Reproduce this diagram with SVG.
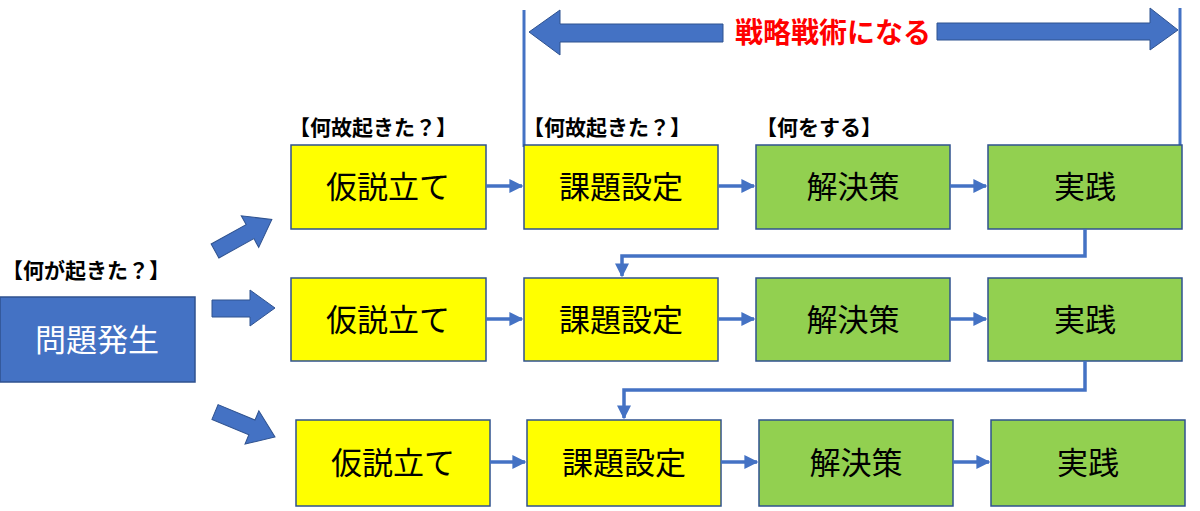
<svg xmlns="http://www.w3.org/2000/svg" width="1200" height="511" viewBox="0 0 1200 511">
<defs>
<style>
.y{fill:#FFFF00;stroke:#2F528F;stroke-width:1.5}
.g{fill:#92D050;stroke:#2F528F;stroke-width:1.5}
.b{fill:#4472C4;stroke:#2F528F;stroke-width:1.5}
.t{font-family:"Liberation Sans","Noto Sans CJK JP",sans-serif;font-size:31px;text-anchor:middle;dominant-baseline:central;fill:#000}
.w{fill:#fff}
.lb{font-family:"Liberation Sans","Noto Sans CJK JP",sans-serif;font-size:21px;font-weight:bold;fill:#000}
.c{fill:none;stroke:#4472C4;stroke-width:3.5}
.ba{fill:#4472C4;stroke:#2F528F;stroke-width:1}
</style>
<marker id="ah" viewBox="0 0 10 10" refX="9" refY="5" markerWidth="4" markerHeight="4" orient="auto" markerUnits="strokeWidth">
<path d="M0,0 L10,5 L0,10 Z" fill="#4472C4"/>
</marker>
</defs>
<rect width="1200" height="511" fill="#fff"/>

<g id="top-range">
<line x1="524" y1="10" x2="524" y2="147" stroke="#4472C4" stroke-width="3"/>
<line x1="1180" y1="8" x2="1180" y2="145" stroke="#4472C4" stroke-width="3"/>
<polygon class="ba" points="723,24 560,24 560,10 529,32 560,55 560,42 723,42"/>
<polygon class="ba" points="937,23 1150,23 1150,8 1178,30 1150,50 1150,40 937,40"/>
<text x="833" y="33" font-family="'Liberation Sans','Noto Sans CJK JP',sans-serif" font-size="28" font-weight="bold" fill="#FF0000" text-anchor="middle" dominant-baseline="central">戦略戦術になる</text>
</g>

<g id="labels">
<text class="lb" x="2" y="278">【何が起きた？】</text>
<text class="lb" x="289" y="135">【何故起きた？】</text>
<text class="lb" x="523" y="135">【何故起きた？】</text>
<text class="lb" x="756" y="135">【何をする】</text>
</g>

<g id="problem">
<rect class="b" x="0" y="297" width="195" height="85"/>
<text class="t w" x="97" y="340">問題発生</text>
</g>

<g id="block-arrows">
<polygon class="ba" transform="translate(215,251) rotate(-29)" points="0,-8 40,-8 40,-18 65,0 40,18 40,8 0,8"/>
<polygon class="ba" points="212,300 250,300 250,290 275,308 250,326 250,317 212,317"/>
<polygon class="ba" transform="translate(215,412) rotate(22.6)" points="0,-8 40,-8 40,-18 65,0 40,18 40,8 0,8"/>
</g>

<g id="r1n1"><rect class="y" x="291" y="145" width="195" height="84"/><text class="t" x="388" y="187">仮説立て</text></g>
<g id="r1n2"><rect class="y" x="524" y="145" width="194" height="84"/><text class="t" x="621" y="187">課題設定</text></g>
<g id="r1n3"><rect class="g" x="756" y="145" width="194" height="84"/><text class="t" x="853" y="187">解決策</text></g>
<g id="r1n4"><rect class="g" x="988" y="145" width="194" height="84"/><text class="t" x="1085" y="187">実践</text></g>

<g id="r2n1"><rect class="y" x="291" y="278" width="195" height="83"/><text class="t" x="388" y="320">仮説立て</text></g>
<g id="r2n2"><rect class="y" x="524" y="278" width="194" height="83"/><text class="t" x="621" y="320">課題設定</text></g>
<g id="r2n3"><rect class="g" x="756" y="278" width="194" height="83"/><text class="t" x="853" y="320">解決策</text></g>
<g id="r2n4"><rect class="g" x="988" y="278" width="194" height="83"/><text class="t" x="1085" y="320">実践</text></g>

<g id="r3n1"><rect class="y" x="296" y="420" width="194" height="86"/><text class="t" x="393" y="463">仮説立て</text></g>
<g id="r3n2"><rect class="y" x="527" y="420" width="194" height="86"/><text class="t" x="624" y="463">課題設定</text></g>
<g id="r3n3"><rect class="g" x="759" y="420" width="194" height="86"/><text class="t" x="856" y="463">解決策</text></g>
<g id="r3n4"><rect class="g" x="991" y="420" width="194" height="86"/><text class="t" x="1088" y="463">実践</text></g>

<g id="connectors">
<line class="c" x1="486" y1="186" x2="522" y2="186" marker-end="url(#ah)"/>
<line class="c" x1="718" y1="186" x2="754" y2="186" marker-end="url(#ah)"/>
<line class="c" x1="950" y1="186" x2="986" y2="186" marker-end="url(#ah)"/>
<line class="c" x1="486" y1="319" x2="522" y2="319" marker-end="url(#ah)"/>
<line class="c" x1="718" y1="319" x2="754" y2="319" marker-end="url(#ah)"/>
<line class="c" x1="950" y1="319" x2="986" y2="319" marker-end="url(#ah)"/>
<line class="c" x1="490" y1="462" x2="525" y2="462" marker-end="url(#ah)"/>
<line class="c" x1="721" y1="462" x2="757" y2="462" marker-end="url(#ah)"/>
<line class="c" x1="953" y1="462" x2="989" y2="462" marker-end="url(#ah)"/>
<polyline class="c" points="1085,229 1085,256 622,256 622,276" marker-end="url(#ah)"/>
<polyline class="c" points="1085,361 1085,390 624,390 624,418" marker-end="url(#ah)"/>
</g>
</svg>
